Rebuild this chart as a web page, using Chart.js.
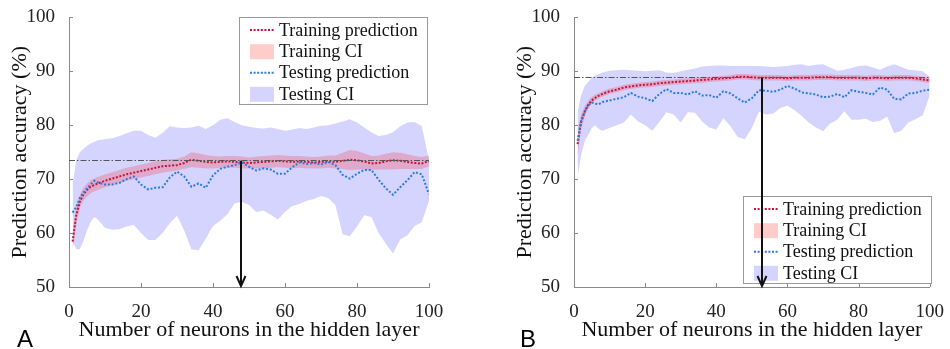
<!DOCTYPE html>
<html>
<head>
<meta charset="utf-8">
<script src="https://cdn.jsdelivr.net/npm/chart.js@4.4.0/dist/chart.umd.min.js"></script>
<style>
  html, body { margin: 0; padding: 0; background: #fff; }
  #wrap { position: relative; width: 950px; height: 349px; }
  canvas { position: absolute; top: 0; }
  #chartA { left: 0; }
  #chartB { left: 475px; }
</style>
</head>
<body>
<div id="wrap">
  <canvas id="chartA" width="475" height="349"></canvas>
  <canvas id="chartB" width="475" height="349"></canvas>
</div>
<script>
// number of neurons in the hidden layer (sampled)
const neurons = [1, 2, 3, 4, 5, 6, 7, 8,
  10, 12, 14, 16, 18, 20, 22, 24, 26, 28,
  30, 32, 34, 36, 38, 40, 42, 44, 46, 48,
  50, 52, 54, 56, 58, 60, 62, 64, 66, 68,
  70, 72, 74, 76, 78, 80, 82, 84, 86, 88,
  90, 92, 94, 96, 98, 100];

const xTicksMax = 100;
const yMin = 50, yMax = 100;

// ---- panel A ----
const trainPredA = [58.4, 63.3, 65.8, 67.2, 68.0, 68.6, 68.9, 69.2,
  69.7, 70.1, 70.5, 70.9, 71.2, 71.5, 71.8, 72.1, 72.4, 72.5,
  72.6, 73.0, 73.6, 73.4, 73.2, 73.1, 73.2, 73.3, 73.2, 73.1,
  73.0, 73.1, 73.2, 73.3, 73.4, 73.3, 73.2, 73.3, 73.2, 73.1,
  73.2, 73.3, 73.2, 73.4, 73.6, 73.5, 73.3, 72.9, 73.0, 73.3,
  73.5, 73.4, 73.2, 73.0, 72.9, 73.4];
const trainLoA = [56.5, 61.5, 64.6, 66.0, 66.8, 67.4, 67.7, 68.0,
  68.5, 68.9, 69.3, 69.7, 70.0, 70.3, 70.6, 70.9, 71.2, 71.4,
  71.6, 71.9, 72.2, 72.1, 72.0, 72.0, 72.1, 72.1, 72.1, 72.0,
  72.0, 72.0, 72.0, 72.1, 72.2, 72.1, 72.0, 72.1, 72.0, 72.0,
  72.0, 72.1, 72.0, 71.9, 71.7, 71.8, 71.8, 71.7, 71.8, 71.8,
  71.8, 71.9, 71.9, 71.9, 71.9, 72.4];
const trainHiA = [60.0, 65.0, 67.0, 68.4, 69.2, 69.8, 70.1, 70.4,
  70.9, 71.3, 71.7, 72.1, 72.4, 72.7, 73.0, 73.3, 73.6, 73.7,
  73.8, 74.2, 75.0, 74.8, 74.5, 74.3, 74.2, 74.3, 74.3, 74.2,
  74.0, 74.2, 74.3, 74.4, 74.5, 74.4, 74.3, 74.3, 74.2, 74.1,
  74.2, 74.4, 74.4, 74.9, 75.4, 75.2, 74.8, 74.3, 74.4, 74.7,
  75.0, 74.9, 74.6, 74.3, 74.1, 74.4];
const testPredA = [63.8, 64.8, 66.5, 67.5, 68.3, 69.0, 69.7, 69.4,
  69.0, 69.0, 69.3, 70.0, 70.5, 69.0, 68.1, 68.4, 68.5, 70.3,
  71.4, 70.5, 68.6, 69.2, 68.4, 70.7, 71.9, 72.3, 72.6, 73.1,
  72.3, 71.6, 72.0, 71.8, 71.0, 71.0, 72.2, 73.1, 72.8, 73.0,
  72.7, 73.2, 72.6, 70.8, 70.1, 71.0, 71.7, 71.7, 69.9, 68.3,
  67.1, 68.5, 69.8, 71.3, 70.9, 67.2];
const testLoA = [58.5, 57.0, 57.0, 58.5, 60.5, 62.0, 63.0, 62.5,
  61.0, 60.6, 60.7, 61.2, 61.5, 60.0, 58.7, 58.7, 60.0, 61.8,
  63.2, 60.5, 57.0, 56.8, 59.0, 61.3, 62.3, 63.5, 65.5, 65.8,
  65.2, 63.9, 64.2, 63.4, 62.5, 63.9, 65.0, 65.4, 66.0, 66.3,
  66.9, 66.5, 65.2, 59.8, 59.4, 61.2, 63.3, 63.0, 60.0, 58.0,
  56.2, 58.8, 59.6, 61.3, 62.0, 66.0];
const testHiA = [69.0, 73.5, 75.0, 75.6, 76.2, 76.6, 76.9, 77.2,
  77.4, 77.6, 78.0, 78.5, 79.0, 79.0, 78.2, 77.7, 78.6, 79.8,
  79.6, 79.5, 79.6, 79.9, 79.3, 80.0, 81.0, 81.3, 80.6, 80.0,
  79.7, 79.5, 79.4, 79.6, 79.3, 79.0, 79.2, 79.5, 79.3, 79.6,
  79.9, 80.0, 80.3, 80.7, 81.1, 80.5, 79.6, 78.7, 78.0, 78.2,
  78.7, 79.8, 80.5, 80.6, 79.8, 73.5];
const refLevelA = 73.5;
const arrowNeuronsA = 47.8, arrowTopA = 73.4;

// ---- panel B ----
const trainPredB = [76.5, 80.6, 82.5, 83.8, 84.6, 85.1, 85.5, 85.8,
  86.3, 86.6, 87.0, 87.2, 87.4, 87.5, 87.6, 87.8, 87.9, 88.0,
  88.1, 88.2, 88.3, 88.4, 88.5, 88.6, 88.7, 88.8, 89.0, 89.0,
  88.9, 88.8, 88.8, 88.8, 88.8, 88.7, 88.8, 88.8, 88.8, 88.9,
  88.9, 88.9, 88.8, 88.8, 88.8, 88.8, 88.7, 88.8, 88.8, 88.7,
  88.8, 88.8, 88.8, 88.7, 88.5, 88.3];
const trainLoB = [74.0, 79.3, 81.6, 83.1, 84.0, 84.6, 85.0, 85.3,
  85.8, 86.1, 86.5, 86.7, 86.9, 87.0, 87.1, 87.3, 87.4, 87.5,
  87.6, 87.7, 87.8, 87.9, 88.0, 88.1, 88.2, 88.3, 88.5, 88.5,
  88.4, 88.3, 88.3, 88.3, 88.3, 88.2, 88.3, 88.3, 88.3, 88.4,
  88.4, 88.4, 88.3, 88.3, 88.3, 88.3, 88.2, 88.3, 88.3, 88.2,
  88.3, 88.3, 88.3, 88.2, 88.0, 87.8];
const trainHiB = [79.0, 82.0, 83.5, 84.6, 85.3, 85.7, 86.0, 86.3,
  86.8, 87.1, 87.5, 87.7, 87.9, 88.0, 88.1, 88.3, 88.4, 88.5,
  88.6, 88.7, 88.8, 88.9, 89.0, 89.1, 89.2, 89.3, 89.5, 89.5,
  89.4, 89.3, 89.3, 89.3, 89.3, 89.2, 89.3, 89.3, 89.3, 89.4,
  89.4, 89.4, 89.3, 89.3, 89.3, 89.3, 89.2, 89.3, 89.3, 89.2,
  89.3, 89.3, 89.3, 89.2, 89.0, 88.8];
const testPredB = [77.1, 80.8, 82.5, 83.7, 84.2, 84.0, 83.9, 84.3,
  84.6, 84.9, 85.2, 86.0, 85.3, 85.0, 84.5, 85.8, 86.7, 86.0,
  86.0, 85.7, 86.3, 85.5, 85.6, 85.1, 86.3, 85.9, 85.0, 84.2,
  85.0, 86.5, 86.4, 86.2, 86.6, 87.3, 86.8, 86.1, 85.9, 85.7,
  85.2, 85.3, 85.8, 85.2, 86.5, 86.2, 86.0, 85.7, 87.0, 86.6,
  84.9, 84.8, 85.9, 86.0, 86.4, 86.6];
const testLoB = [70.3, 74.5, 77.0, 78.2, 79.5, 80.0, 79.3, 79.0,
  79.5, 80.0, 80.5, 82.0, 80.7, 80.0, 79.0, 80.6, 82.4, 82.0,
  80.5, 82.4, 82.3, 80.7, 79.6, 79.2, 81.3, 79.8, 77.8, 77.4,
  79.5, 82.5, 82.0, 82.2, 83.2, 83.6, 82.8, 81.7, 80.5, 79.6,
  78.9, 80.3, 81.0, 82.6, 81.0, 81.0, 81.2, 80.6, 80.8, 81.6,
  78.5, 79.0, 80.5, 81.1, 81.8, 85.5];
const testHiB = [82.5, 85.5, 87.3, 88.0, 88.8, 89.2, 89.5, 89.8,
  90.1, 90.2, 90.3, 90.2, 90.1, 90.0, 90.1, 90.2, 89.8, 89.7,
  90.0, 90.3, 90.5, 90.9, 91.0, 91.1, 91.1, 91.0, 91.0, 91.0,
  91.0, 91.0, 90.9, 90.8, 90.9, 91.0, 91.2, 91.3, 91.0, 91.2,
  91.3, 90.7, 90.1, 90.3, 90.6, 91.0, 91.1, 90.7, 90.3, 90.9,
  91.3, 90.8, 90.3, 90.2, 90.0, 89.0];
const refLevelB = 88.9;
const arrowNeuronsB = 52.8, arrowTopB = 88.8;

const legendLabels = ["Training prediction", "Training CI", "Testing prediction", "Testing CI"];

const serif = '"Liberation Serif", "Times New Roman", serif';
const RED = "#c8123a", BLUE = "#2b7bde";
const PINK = "rgba(255,0,0,0.2)", LAVENDER = "rgba(0,0,255,0.17)";
const NONE = "rgba(0,0,0,0)";

function series(ys) {
  return neurons.map((x, i) => ({ x: x, y: ys[i] }));
}

// ticks, reference line, legend, arrow, panel letter
const decorations = {
  id: "decorations",
  afterDraw(chart, args, opts) {
    const ctx = chart.ctx, sx = chart.scales.x, sy = chart.scales.y;
    const area = chart.chartArea;
    ctx.save();

    // inward tick marks
    ctx.strokeStyle = "#8a8a8a";
    ctx.lineWidth = 1;
    sy.ticks.forEach(t => {
      const y = Math.round(sy.getPixelForValue(t.value)) + 0.5;
      ctx.beginPath(); ctx.moveTo(area.left, y); ctx.lineTo(area.left + 4, y); ctx.stroke();
    });
    sx.ticks.forEach(t => {
      const x = Math.round(sx.getPixelForValue(t.value)) + 0.5;
      ctx.beginPath(); ctx.moveTo(x, area.bottom); ctx.lineTo(x, area.bottom - 4); ctx.stroke();
    });

    // dash-dot reference level
    const ry = Math.round(sy.getPixelForValue(opts.refLevel)) + 0.5;
    ctx.strokeStyle = "#555";
    ctx.setLineDash([6, 2, 1.5, 2]);
    ctx.beginPath();
    ctx.moveTo(sx.getPixelForValue(0), ry);
    ctx.lineTo(sx.getPixelForValue(xTicksMax), ry);
    ctx.stroke();
    ctx.setLineDash([]);

    // legend box
    const lx = opts.legendAt[0], ly = opts.legendAt[1];
    ctx.fillStyle = "#fff";
    ctx.fillRect(lx, ly, 189, 88);
    ctx.strokeStyle = "#9a9a9a";
    ctx.strokeRect(lx + 0.5, ly + 0.5, 188, 87);
    const rows = [13, 34.7, 55.7, 77.3];
    ctx.font = "18px " + serif;
    ctx.textBaseline = "middle";
    rows.forEach((r, i) => {
      const cy = ly + r;
      if (i === 0 || i === 2) {
        ctx.strokeStyle = i === 0 ? RED : BLUE;
        ctx.lineWidth = 2;
        ctx.setLineDash([2, 1.6]);
        ctx.beginPath(); ctx.moveTo(lx + 11, cy); ctx.lineTo(lx + 35, cy); ctx.stroke();
        ctx.setLineDash([]);
      } else {
        ctx.fillStyle = i === 1 ? PINK : LAVENDER;
        ctx.fillRect(lx + 11, cy - 7.5, 24, 15);
      }
      ctx.fillStyle = "#111";
      ctx.fillText(legendLabels[i], lx + 40, cy + 1);
    });

    // arrow down to the x axis
    const ax = Math.round(sx.getPixelForValue(opts.arrowX));
    const top = sy.getPixelForValue(opts.arrowTop);
    const tip = sy.getPixelForValue(yMin) - 1;
    ctx.strokeStyle = "#111";
    ctx.lineWidth = 2;
    ctx.beginPath(); ctx.moveTo(ax, top); ctx.lineTo(ax, tip); ctx.stroke();
    ctx.beginPath();
    ctx.moveTo(ax - 4.5, tip - 10); ctx.lineTo(ax, tip); ctx.lineTo(ax + 4.5, tip - 10);
    ctx.stroke();

    // panel letter
    ctx.fillStyle = "#000";
    ctx.font = '24px "Liberation Sans", Arial, sans-serif';
    ctx.textBaseline = "alphabetic";
    ctx.fillText(opts.letter, opts.letterX, 347);
    ctx.restore();
  }
};

function makeChart(id, d, pad, deco) {
  const tickFont = { family: serif, size: 19 };
  const titleFont = { family: serif, size: 22 };
  return new Chart(document.getElementById(id), {
    type: "line",
    data: {
      datasets: [
        { data: series(d.testPred), borderColor: BLUE, borderWidth: 2, borderDash: [2, 1.8], pointRadius: 0, fill: false },
        { data: series(d.trainPred), borderColor: RED, borderWidth: 2, borderDash: [2, 1.6], pointRadius: 0, fill: false },
        { data: series(d.trainHi), borderColor: NONE, borderWidth: 0, pointRadius: 0, backgroundColor: PINK, fill: "+1" },
        { data: series(d.trainLo), borderColor: NONE, borderWidth: 0, pointRadius: 0, fill: false },
        { data: series(d.testHi), borderColor: NONE, borderWidth: 0, pointRadius: 0, backgroundColor: LAVENDER, fill: "+1" },
        { data: series(d.testLo), borderColor: NONE, borderWidth: 0, pointRadius: 0, fill: false }
      ]
    },
    options: {
      responsive: false,
      animation: false,
      devicePixelRatio: 1,
      layout: { padding: pad },
      plugins: { legend: { display: false }, tooltip: { enabled: false }, decorations: deco },
      scales: {
        x: {
          type: "linear", min: 0, max: xTicksMax,
          grid: { display: false },
          border: { display: true, color: "#8a8a8a", width: 1 },
          ticks: { stepSize: 20, padding: 6, color: "#222", font: tickFont, maxRotation: 0 },
          title: { display: true, text: "Number of neurons in the hidden layer", color: "#111",
                   font: titleFont, padding: { top: 0, bottom: 6 } },
          afterFit: s => { s.height = 62; }
        },
        y: {
          min: yMin, max: yMax,
          grid: { display: false },
          border: { display: true, color: "#8a8a8a", width: 1 },
          ticks: { stepSize: 10, padding: 6, color: "#222", font: tickFont },
          title: { display: true, text: "Prediction accuracy (%)", color: "#111",
                   font: titleFont, padding: { top: 7, bottom: 0 } },
          afterFit: s => { s.width = 69; }
        }
      }
    },
    plugins: [decorations]
  });
}

makeChart("chartA",
  { trainPred: trainPredA, trainLo: trainLoA, trainHi: trainHiA, testPred: testPredA, testLo: testLoA, testHi: testHiA },
  { left: 0, right: 46, top: 16, bottom: 0 },
  { refLevel: refLevelA, arrowX: arrowNeuronsA, arrowTop: arrowTopA, legendAt: [239, 17], letter: "A", letterX: 17 });

makeChart("chartB",
  { trainPred: trainPredB, trainLo: trainLoB, trainHi: trainHiB, testPred: testPredB, testLo: testLoB, testHi: testHiB },
  { left: 30, right: 17, top: 16, bottom: 0 },
  { refLevel: refLevelB, arrowX: arrowNeuronsB, arrowTop: arrowTopB, legendAt: [268, 196], letter: "B", letterX: 45 });
</script>
</body>
</html>
